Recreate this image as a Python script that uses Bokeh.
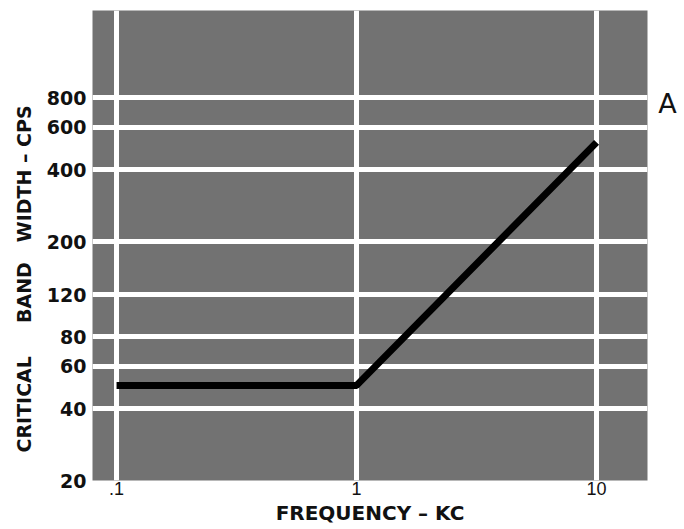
import math
from bokeh.plotting import figure
from bokeh.models import FixedTicker, Label, Range1d, Title
from bokeh.layouts import row
from bokeh.embed import file_html
from bokeh.resources import INLINE

# ---- data ----
freq_khz = [0.1, 1.0, 10.0]
bandwidth_cps = [50, 50, 520]

x_ticks = [0.1, 1, 10]
x_tick_labels = [".1", "1", "10"]
y_ticks = [20, 40, 60, 80, 120, 200, 400, 600, 800]
y_tick_labels = ["20", "40", "60", "80", "120", "200", "400", "600", "800"]
y_grid = y_ticks[1:]

NB = "\u00a0"
x_title = "FREQUENCY – KC"
y_title = "CRITICAL" + NB * 5 + "BAND" + NB * 3 + "WIDTH – CPS"
panel_tag = "A"

# ---- layout ----
X0, X1 = 0.0794, 16.3
Y0, Y1 = 20, 1852
W, H = 654, 529
FL, FR, FT, FB = 92, 647, 10, 480  # frame edges in pixels

p = figure(width=W, height=H, x_axis_type="log", y_axis_type="log",
           x_range=Range1d(X0, X1), y_range=Range1d(Y0, Y1),
           output_backend="svg", toolbar_location=None, title=None,
           min_border_left=FL, min_border_right=W - FR,
           min_border_top=FT, min_border_bottom=H - FB)

p.background_fill_color = "#727272"
p.border_fill_color = "white"
p.outline_line_color = None

# grid
p.xgrid.ticker = FixedTicker(ticks=x_ticks)
p.ygrid.ticker = FixedTicker(ticks=y_grid)
for g in (p.xgrid, p.ygrid):
    g.grid_line_color = "white"
    g.grid_line_width = 5
    g.grid_line_alpha = 1.0

# axes
p.xaxis.ticker = FixedTicker(ticks=x_ticks)
p.xaxis.major_label_overrides = {t: l for t, l in zip(x_ticks, x_tick_labels)}
p.yaxis.ticker = FixedTicker(ticks=y_ticks)
p.yaxis.major_label_overrides = {t: l for t, l in zip(y_ticks, y_tick_labels)}
for ax in (p.xaxis, p.yaxis):
    ax.axis_line_color = None
    ax.major_tick_line_color = None
    ax.minor_tick_line_color = None
    ax.major_tick_out = 0
    ax.major_tick_in = 0
    ax.major_label_text_color = "#111111"

p.xaxis.major_label_text_font = "Liberation Sans"
p.xaxis.major_label_text_font_size = "18px"
p.xaxis.major_label_standoff = 1
p.xaxis.axis_label = x_title
p.xaxis.axis_label_standoff = 3
p.xaxis.axis_label_text_font = "DejaVu Sans"
p.xaxis.axis_label_text_font_style = "bold"
p.xaxis.axis_label_text_font_size = "20px"
p.xaxis.axis_label_text_color = "#111111"

p.yaxis.major_label_text_font = "DejaVu Sans"
p.yaxis.major_label_text_font_style = "bold"
p.yaxis.major_label_text_font_size = "19px"
p.yaxis.major_label_standoff = 6

# y title as a side title, starting near the bottom of the frame
p.add_layout(Title(text=y_title, align="left", offset=28, standoff=17,
                   text_font="DejaVu Sans", text_font_style="bold",
                   text_font_size="19px", text_color="#111111"), "left")

# data line
p.line(freq_khz, bandwidth_cps, line_color="black", line_width=7, line_join="round")

# small side panel holding the "A" tag
TW = 684 - W
tag = figure(width=TW, height=H, x_range=Range1d(0, 1), y_range=Range1d(0, 1),
             output_backend="svg", toolbar_location=None, title=None,
             min_border=0)
tag.axis.visible = False
tag.grid.visible = False
tag.outline_line_color = None
tag.background_fill_color = "white"
tag.border_fill_color = "white"
tag.add_layout(Label(x=(667 - W) / TW, y=1 - 105 / H, text=panel_tag,
                     text_align="center", text_baseline="middle",
                     text_font="DejaVu Sans", text_font_size="27px",
                     text_color="#111111"))

layout = row(p, tag)
open("out.html", "w").write(file_html(layout, INLINE))
